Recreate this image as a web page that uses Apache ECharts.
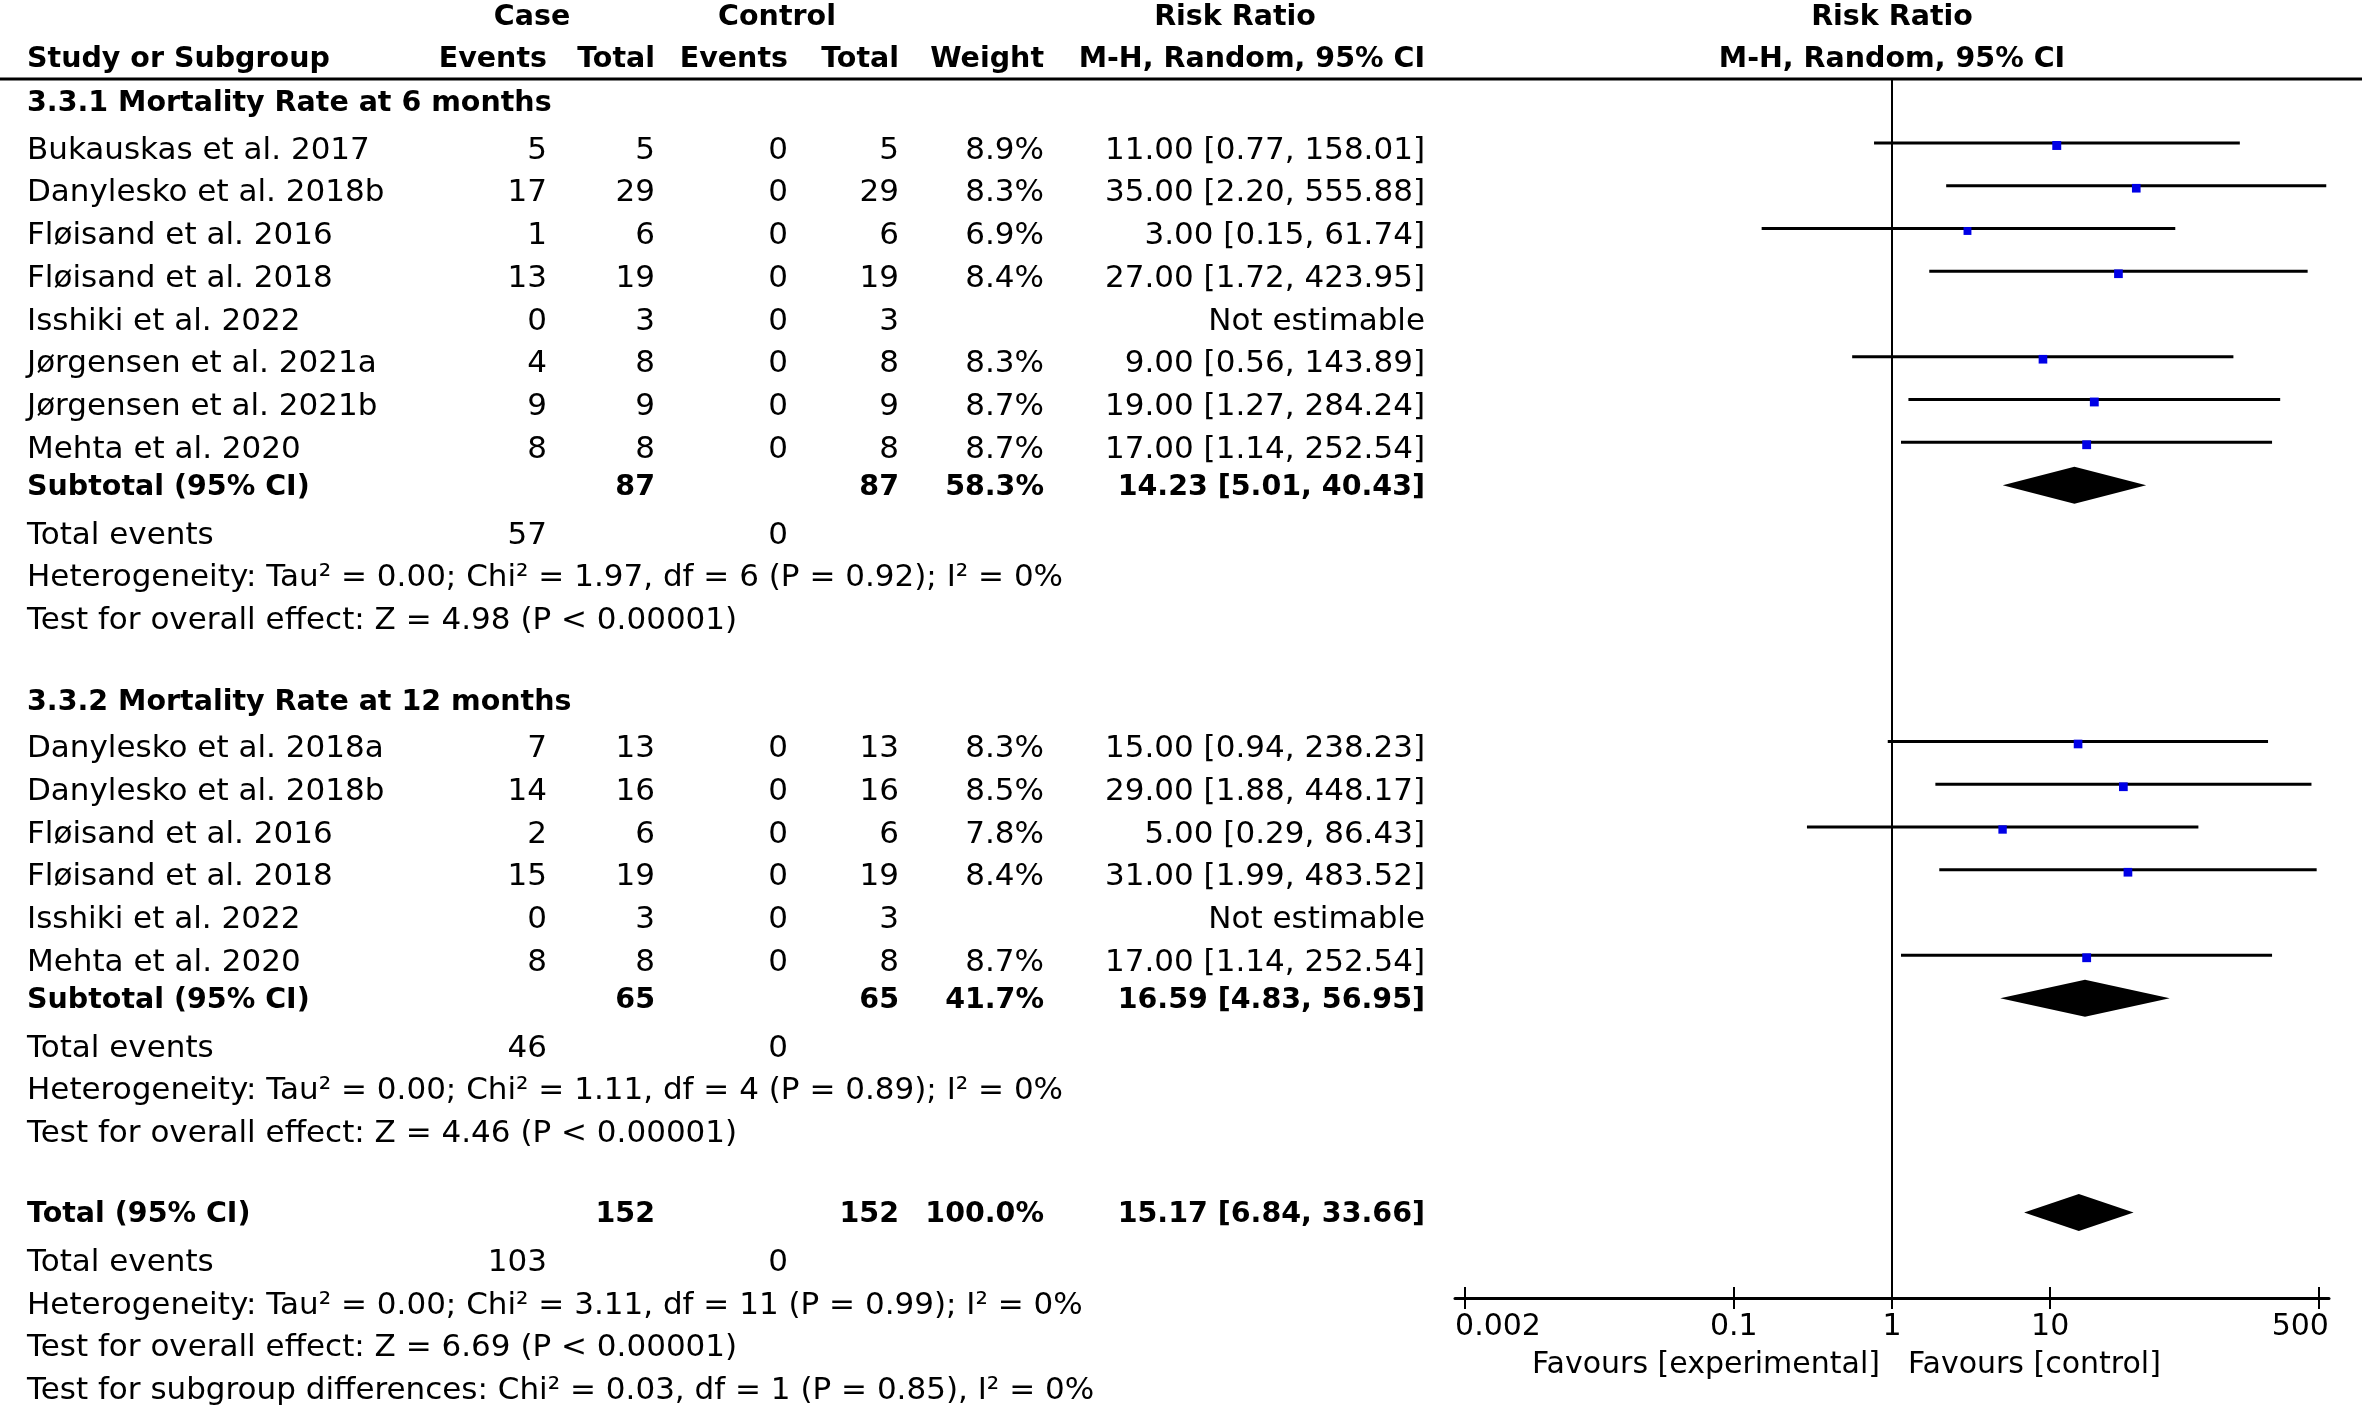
<!DOCTYPE html>
<html>
<head>
<meta charset="utf-8">
<title>Forest plot</title>
<script src="https://cdn.jsdelivr.net/npm/echarts@6/dist/echarts.min.js"></script>
<style>
html,body{margin:0;padding:0;background:#ffffff;}
#chart{width:2362px;height:1407px;}
</style>
</head>
<body>
<div id="chart"></div>
<script>
// ---------------- DATA ----------------
const headerTop = ['Case', 'Control', 'Risk Ratio', 'Risk Ratio'];
const headerBottom = ['Study or Subgroup', 'Events', 'Total', 'Events', 'Total', 'Weight', 'M-H, Random, 95% CI', 'M-H, Random, 95% CI'];
const groupTitles = ['3.3.1 Mortality Rate at 6 months', '3.3.2 Mortality Rate at 12 months'];

const studies6 = ['Bukauskas et al. 2017', 'Danylesko et al. 2018b', 'Fløisand et al. 2016', 'Fløisand et al. 2018', 'Isshiki et al. 2022', 'Jørgensen et al. 2021a', 'Jørgensen et al. 2021b', 'Mehta et al. 2020'];
const caseEvents6 = [5, 17, 1, 13, 0, 4, 9, 8];
const caseTotal6 = [5, 29, 6, 19, 3, 8, 9, 8];
const ctrlEvents6 = [0, 0, 0, 0, 0, 0, 0, 0];
const ctrlTotal6 = [5, 29, 6, 19, 3, 8, 9, 8];
const weight6 = [8.9, 8.3, 6.9, 8.4, null, 8.3, 8.7, 8.7];
const rr6 = [11.00, 35.00, 3.00, 27.00, null, 9.00, 19.00, 17.00];
const lo6 = [0.77, 2.20, 0.15, 1.72, null, 0.56, 1.27, 1.14];
const hi6 = [158.01, 555.88, 61.74, 423.95, null, 143.89, 284.24, 252.54];

const studies12 = ['Danylesko et al. 2018a', 'Danylesko et al. 2018b', 'Fløisand et al. 2016', 'Fløisand et al. 2018', 'Isshiki et al. 2022', 'Mehta et al. 2020'];
const caseEvents12 = [7, 14, 2, 15, 0, 8];
const caseTotal12 = [13, 16, 6, 19, 3, 8];
const ctrlEvents12 = [0, 0, 0, 0, 0, 0];
const ctrlTotal12 = [13, 16, 6, 19, 3, 8];
const weight12 = [8.3, 8.5, 7.8, 8.4, null, 8.7];
const rr12 = [15.00, 29.00, 5.00, 31.00, null, 17.00];
const lo12 = [0.94, 1.88, 0.29, 1.99, null, 1.14];
const hi12 = [238.23, 448.17, 86.43, 483.52, null, 252.54];

const subtotalCaseEvents = [57, 46];
const subtotalCtrlEvents = [0, 0];
const subtotalCaseTotal = [87, 65];
const subtotalCtrlTotal = [87, 65];
const subtotalWeight = [58.3, 41.7];
const subtotalRR = [14.23, 16.59];
const subtotalLo = [5.01, 4.83];
const subtotalHi = [40.43, 56.95];
const subtotalHeterogeneity = ['Heterogeneity: Tau² = 0.00; Chi² = 1.97, df = 6 (P = 0.92); I² = 0%', 'Heterogeneity: Tau² = 0.00; Chi² = 1.11, df = 4 (P = 0.89); I² = 0%'];
const subtotalEffect = ['Test for overall effect: Z = 4.98 (P < 0.00001)', 'Test for overall effect: Z = 4.46 (P < 0.00001)'];

const totalCaseEvents = [103];
const totalCtrlEvents = [0];
const totalCaseTotal = [152];
const totalCtrlTotal = [152];
const totalWeight = [100.0];
const totalRR = [15.17];
const totalLo = [6.84];
const totalHi = [33.66];
const totalNotes = ['Heterogeneity: Tau² = 0.00; Chi² = 3.11, df = 11 (P = 0.99); I² = 0%', 'Test for overall effect: Z = 6.69 (P < 0.00001)', 'Test for subgroup differences: Chi² = 0.03, df = 1 (P = 0.85), I² = 0%'];
const rowLabels = ['Subtotal (95% CI)', 'Total events', 'Total (95% CI)', 'Not estimable'];

const axisTickValues = [0.002, 0.1, 1, 10, 500];
const axisTickLabels = ['0.002', '0.1', '1', '10', '500'];
const favourLabels = ['Favours [experimental]', 'Favours [control]'];

// ---------------- LAYOUT / STYLE ----------------
const W = 2362, H = 1407, P = 42.75;
const FONT = "'DejaVu Sans', Verdana, sans-serif";
const FS = 31, FSB = 28.5, FSAX = 30;
const BLUE = '#0000e6';
const COL = {name: 27, caseEv: 547, caseTot: 655, ctrlEv: 788, ctrlTot: 899, weight: 1044, ci: 1425, caseHead: 532, ctrlHead: 777, rrHead: 1235};
const HLINE_Y = 79, PLOT_TOP = 79, PLOT_BOTTOM = 1298, PLOT_LEFT = 1455, PLOT_RIGHT = 2329, AXIS_PAD = 1.157;
const GAP = {head2: 0.98, section: 1.03, firstStudy: 1.09, row: 1, subtotal: 0.88, events: 1.13, block: 1.9, total: 1.88};
const FIRST_SLOT = 0.35;
const FAVOUR_Y = 1362;
const TEXT_DY = 3;
const LINE_DY = -4.5, SQUARE_DY = -2, DIAMOND_DY = 1, DIAMOND_HALF = 18.5;

const groups = [
  {title: groupTitles[0], names: studies6, ce: caseEvents6, ct: caseTotal6, ke: ctrlEvents6, kt: ctrlTotal6, w: weight6, rr: rr6, lo: lo6, hi: hi6},
  {title: groupTitles[1], names: studies12, ce: caseEvents12, ct: caseTotal12, ke: ctrlEvents12, kt: ctrlTotal12, w: weight12, rr: rr12, lo: lo12, hi: hi12}
];

const cells = [];
const marks = [];
const plotTexts = [];
function cell(x, slot, text, align, bold) { cells.push({x: x, slot: slot, text: text, align: align, bold: !!bold}); }
const fmtW = w => w.toFixed(1) + '%';
const fmtCI = (r, l, h) => r.toFixed(2) + ' [' + l.toFixed(2) + ', ' + h.toFixed(2) + ']';

let s = FIRST_SLOT;
cell(COL.caseHead, s, headerTop[0], 'center', true);
cell(COL.ctrlHead, s, headerTop[1], 'center', true);
cell(COL.rrHead, s, headerTop[2], 'center', true);
plotTexts.push({slot: s, text: headerTop[3], align: 'center', dx: 0, bold: true});
s += GAP.head2;
cell(COL.name, s, headerBottom[0], 'left', true);
cell(COL.caseEv, s, headerBottom[1], 'right', true);
cell(COL.caseTot, s, headerBottom[2], 'right', true);
cell(COL.ctrlEv, s, headerBottom[3], 'right', true);
cell(COL.ctrlTot, s, headerBottom[4], 'right', true);
cell(COL.weight, s, headerBottom[5], 'right', true);
cell(COL.ci, s, headerBottom[6], 'right', true);
plotTexts.push({slot: s, text: headerBottom[7], align: 'center', dx: 0, bold: true});

groups.forEach(function (g, gi) {
  s += gi === 0 ? GAP.section : GAP.block;
  cell(COL.name, s, g.title, 'left', true);
  g.names.forEach(function (n, i) {
    s += i === 0 ? GAP.firstStudy : GAP.row;
    cell(COL.name, s, n, 'left');
    cell(COL.caseEv, s, String(g.ce[i]), 'right');
    cell(COL.caseTot, s, String(g.ct[i]), 'right');
    cell(COL.ctrlEv, s, String(g.ke[i]), 'right');
    cell(COL.ctrlTot, s, String(g.kt[i]), 'right');
    if (g.rr[i] == null) {
      cell(COL.ci, s, rowLabels[3], 'right');
    } else {
      cell(COL.weight, s, fmtW(g.w[i]), 'right');
      cell(COL.ci, s, fmtCI(g.rr[i], g.lo[i], g.hi[i]), 'right');
      marks.push({kind: 0, rr: g.rr[i], slot: s, lo: g.lo[i], hi: g.hi[i], w: g.w[i]});
    }
  });
  s += GAP.subtotal;
  cell(COL.name, s, rowLabels[0], 'left', true);
  cell(COL.caseTot, s, String(subtotalCaseTotal[gi]), 'right', true);
  cell(COL.ctrlTot, s, String(subtotalCtrlTotal[gi]), 'right', true);
  cell(COL.weight, s, fmtW(subtotalWeight[gi]), 'right', true);
  cell(COL.ci, s, fmtCI(subtotalRR[gi], subtotalLo[gi], subtotalHi[gi]), 'right', true);
  marks.push({kind: 1, rr: subtotalRR[gi], slot: s, lo: subtotalLo[gi], hi: subtotalHi[gi], w: subtotalWeight[gi]});
  s += GAP.events;
  cell(COL.name, s, rowLabels[1], 'left');
  cell(COL.caseEv, s, String(subtotalCaseEvents[gi]), 'right');
  cell(COL.ctrlEv, s, String(subtotalCtrlEvents[gi]), 'right');
  s += GAP.row;
  cell(COL.name, s, subtotalHeterogeneity[gi], 'left');
  s += GAP.row;
  cell(COL.name, s, subtotalEffect[gi], 'left');
});

s += GAP.total;
cell(COL.name, s, rowLabels[2], 'left', true);
cell(COL.caseTot, s, String(totalCaseTotal[0]), 'right', true);
cell(COL.ctrlTot, s, String(totalCtrlTotal[0]), 'right', true);
cell(COL.weight, s, fmtW(totalWeight[0]), 'right', true);
cell(COL.ci, s, fmtCI(totalRR[0], totalLo[0], totalHi[0]), 'right', true);
marks.push({kind: 1, rr: totalRR[0], slot: s, lo: totalLo[0], hi: totalHi[0], w: totalWeight[0]});
s += GAP.events;
cell(COL.name, s, rowLabels[1], 'left');
cell(COL.caseEv, s, String(totalCaseEvents[0]), 'right');
cell(COL.ctrlEv, s, String(totalCtrlEvents[0]), 'right');
totalNotes.forEach(function (t) { s += GAP.row; cell(COL.name, s, t, 'left'); });

plotTexts.push({slot: FAVOUR_Y / P, text: favourLabels[0], align: 'right', dx: -12, bold: false, axis: true});
plotTexts.push({slot: FAVOUR_Y / P, text: favourLabels[1], align: 'left', dx: 16, bold: false, axis: true});

function fmtTick(v) {
  let best = 0;
  axisTickValues.forEach(function (t, i) {
    if (Math.abs(Math.log10(t) - Math.log10(v)) < Math.abs(Math.log10(axisTickValues[best]) - Math.log10(v))) best = i;
  });
  return axisTickLabels[best];
}

function textStyle(text, align, bold, size) {
  return {text: text, fill: '#000', fontFamily: FONT, fontSize: size || (bold ? FSB : FS), fontWeight: bold ? 'bold' : 'normal', align: align, verticalAlign: 'middle'};
}

const chart = echarts.init(document.getElementById('chart'), null, {renderer: 'canvas', width: W, height: H});
const logMin = axisTickValues[0] / AXIS_PAD;
const logMax = axisTickValues[axisTickValues.length - 1] * AXIS_PAD;
// end labels sit at the ends of the axis line (RevMan style); inner labels at their ticks
const labelValues = axisTickValues.map(function (v, i) {
  if (i === 0) return logMin * 1.001;
  if (i === axisTickValues.length - 1) return logMax / 1.001;
  return v;
});

chart.setOption({
  animation: false,
  backgroundColor: '#ffffff',
  grid: [
    {left: 0, right: 0, top: 0, bottom: 0, containLabel: false, outerBoundsMode: 'none'},
    {left: PLOT_LEFT, right: W - PLOT_RIGHT, top: PLOT_TOP, bottom: H - PLOT_BOTTOM, containLabel: false, outerBoundsMode: 'none'}
  ],
  xAxis: [
    {gridIndex: 0, type: 'value', min: 0, max: W, show: false},
    {gridIndex: 1, type: 'log', logBase: 10, min: logMin, max: logMax, position: 'bottom',
      axisLine: {show: true, onZero: false, lineStyle: {color: '#000', width: 3}},
      axisTick: {show: true, inside: false, length: 11, customValues: axisTickValues, lineStyle: {color: '#000', width: 2}},
      axisLabel: {show: true, customValues: labelValues, formatter: fmtTick, color: '#000', fontSize: FSAX, fontFamily: FONT, margin: 14, alignMinLabel: 'left', alignMaxLabel: 'right'},
      splitLine: {show: false}, minorTick: {show: false}, minorSplitLine: {show: false}},
    {gridIndex: 1, type: 'log', logBase: 10, min: logMin, max: logMax, position: 'bottom',
      axisLine: {show: false},
      axisTick: {show: true, inside: true, length: 11, customValues: axisTickValues, lineStyle: {color: '#000', width: 2}},
      axisLabel: {show: false},
      splitLine: {show: false}, minorTick: {show: false}}
  ],
  yAxis: [
    {gridIndex: 0, type: 'value', min: 0, max: H / P, inverse: true, show: false},
    {gridIndex: 1, type: 'value', min: PLOT_TOP / P, max: PLOT_BOTTOM / P, inverse: true, show: false}
  ],
  series: [
    {
      type: 'custom', name: 'table', coordinateSystem: 'cartesian2d', xAxisIndex: 0, yAxisIndex: 0, clip: false, silent: true,
      data: cells.map(c => [c.x, c.slot]),
      renderItem: function (params, api) {
        const c = cells[params.dataIndex];
        const p = api.coord([api.value(0), api.value(1)]);
        return {type: 'text', x: p[0], y: p[1] + TEXT_DY, style: textStyle(c.text, c.align, c.bold)};
      }
    },
    {
      type: 'custom', name: 'headerRule', coordinateSystem: 'cartesian2d', xAxisIndex: 0, yAxisIndex: 0, clip: false, silent: true,
      data: [[0, HLINE_Y / P, W]],
      renderItem: function (params, api) {
        const a = api.coord([api.value(0), api.value(1)]);
        const b = api.coord([api.value(2), api.value(1)]);
        return {type: 'line', shape: {x1: a[0], y1: a[1], x2: b[0], y2: b[1]}, style: {stroke: '#000', lineWidth: 3}};
      }
    },
    {
      type: 'custom', name: 'noEffect', coordinateSystem: 'cartesian2d', xAxisIndex: 1, yAxisIndex: 1, clip: false, silent: true,
      data: [[1, PLOT_TOP / P, PLOT_BOTTOM / P]],
      renderItem: function (params, api) {
        const a = api.coord([api.value(0), api.value(1)]);
        const b = api.coord([api.value(0), api.value(2)]);
        return {type: 'line', shape: {x1: a[0], y1: a[1], x2: b[0], y2: b[1]}, style: {stroke: '#000', lineWidth: 2}};
      }
    },
    {
      type: 'custom', name: 'forest', coordinateSystem: 'cartesian2d', xAxisIndex: 1, yAxisIndex: 1, clip: false, silent: true,
      data: marks.map(m => [m.rr, m.slot, m.lo, m.hi, m.w, m.kind]),
      renderItem: function (params, api) {
        const p = api.coord([api.value(0), api.value(1)]);
        const l = api.coord([api.value(2), api.value(1)]);
        const h = api.coord([api.value(3), api.value(1)]);
        if (api.value(5) === 1) {
          const y = p[1] + DIAMOND_DY;
          return {type: 'polygon', shape: {points: [[l[0], y], [p[0], y - DIAMOND_HALF], [h[0], y], [p[0], y + DIAMOND_HALF]]}, style: {fill: '#000'}};
        }
        const half = 1.5 * Math.sqrt(api.value(4));
        return {type: 'group', children: [
          {type: 'line', shape: {x1: l[0], y1: p[1] + LINE_DY, x2: h[0], y2: p[1] + LINE_DY}, style: {stroke: '#000', lineWidth: 3}},
          {type: 'rect', shape: {x: p[0] - half, y: p[1] + SQUARE_DY - half, width: 2 * half, height: 2 * half}, style: {fill: BLUE}}
        ]};
      }
    },
    {
      type: 'custom', name: 'plotText', coordinateSystem: 'cartesian2d', xAxisIndex: 1, yAxisIndex: 1, clip: false, silent: true,
      data: plotTexts.map(t => [1, t.slot]),
      renderItem: function (params, api) {
        const t = plotTexts[params.dataIndex];
        const p = api.coord([api.value(0), api.value(1)]);
        return {type: 'text', x: p[0] + t.dx, y: p[1] + TEXT_DY, style: textStyle(t.text, t.align, t.bold, t.axis ? FSAX : null)};
      }
    }
  ]
});
</script>
</body>
</html>
